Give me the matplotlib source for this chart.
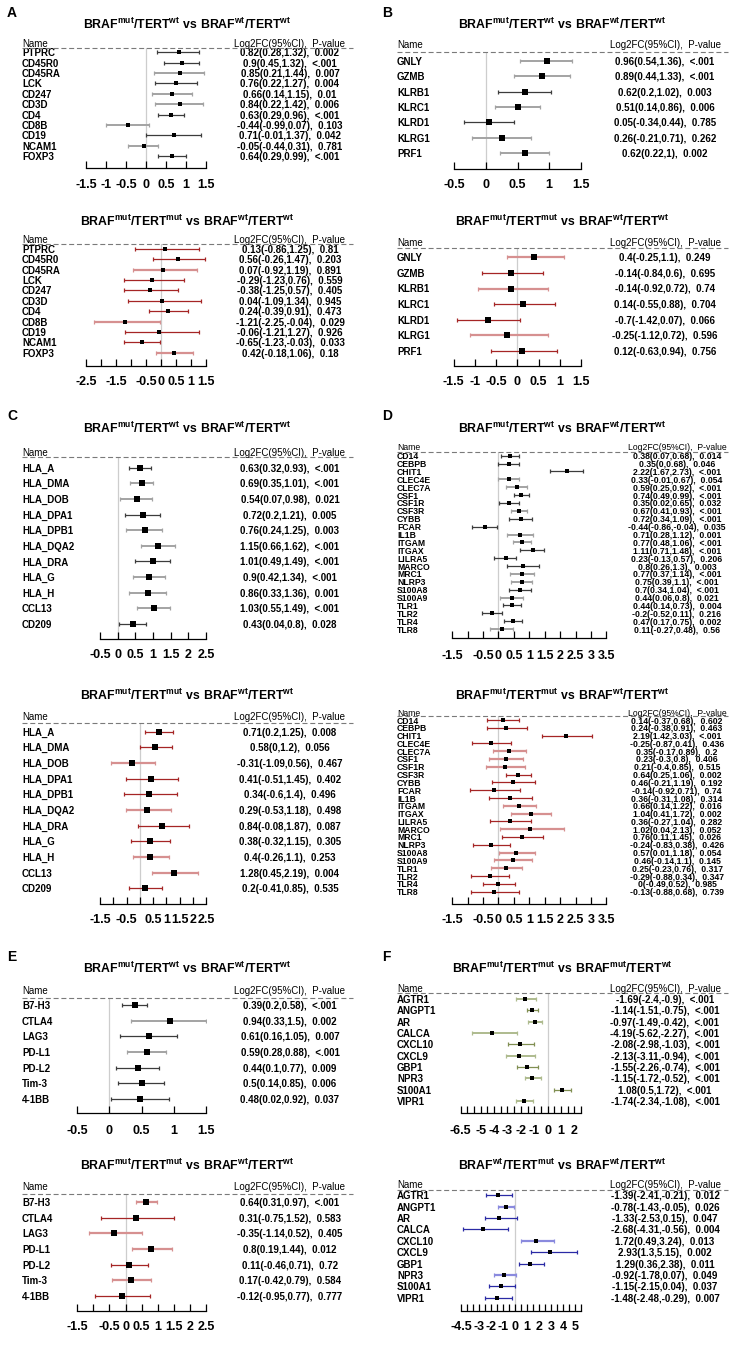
import matplotlib
matplotlib.use('Agg')
import matplotlib.pyplot as plt
import matplotlib.transforms as mtransforms
from matplotlib.lines import Line2D
import numpy as np

plt.rcParams['font.family'] = ['Liberation Sans', 'DejaVu Sans']
plt.rcParams['mathtext.fontset'] = 'custom'
plt.rcParams['mathtext.bf'] = 'Liberation Sans:bold'
plt.rcParams['mathtext.rm'] = 'Liberation Sans'
plt.rcParams['lines.scale_dashes'] = False

# ---------------- DATA ----------------
# Panel A (T cell markers)
a_names = ['PTPRC', 'CD45R0', 'CD45RA', 'LCK', 'CD247', 'CD3D', 'CD4', 'CD8B', 'CD19', 'NCAM1', 'FOXP3']
a1_est = [0.82, 0.9, 0.85, 0.76, 0.66, 0.84, 0.63, -0.44, 0.71, -0.05, 0.64]
a1_lo = [0.28, 0.45, 0.21, 0.22, 0.14, 0.22, 0.29, -0.99, -0.01, -0.44, 0.29]
a1_hi = [1.32, 1.32, 1.44, 1.27, 1.15, 1.42, 0.96, 0.07, 1.37, 0.31, 0.99]
a1_p = ['0.002', '<.001', '0.007', '0.004', '0.01', '0.006', '<.001', '0.103', '0.042', '0.781', '<.001']
a2_est = [0.13, 0.56, 0.07, -0.29, -0.38, 0.04, 0.24, -1.21, -0.06, -0.65, 0.42]
a2_lo = [-0.86, -0.26, -0.92, -1.23, -1.25, -1.09, -0.39, -2.25, -1.21, -1.23, -0.18]
a2_hi = [1.25, 1.47, 1.19, 0.76, 0.57, 1.34, 0.91, -0.04, 1.27, -0.03, 1.06]
a2_p = ['0.81', '0.203', '0.891', '0.559', '0.405', '0.945', '0.473', '0.029', '0.926', '0.033', '0.18']
a1_ticklabels = ['-1.5', '-1', '-0.5', '0', '0.5', '1', '1.5']
a2_ticklabels = ['-2.5', '', '-1.5', '', '-0.5', '0', '0.5', '1', '1.5']

# Panel B (NK markers)
b_names = ['GNLY', 'GZMB', 'KLRB1', 'KLRC1', 'KLRD1', 'KLRG1', 'PRF1']
b1_est = [0.96, 0.89, 0.62, 0.51, 0.05, 0.26, 0.62]
b1_lo = [0.54, 0.44, 0.2, 0.14, -0.34, -0.21, 0.22]
b1_hi = [1.36, 1.33, 1.02, 0.86, 0.44, 0.71, 1]
b1_p = ['<.001', '<.001', '0.003', '0.006', '0.785', '0.262', '0.002']
b2_est = [0.4, -0.14, -0.14, 0.14, -0.7, -0.25, 0.12]
b2_lo = [-0.25, -0.84, -0.92, -0.55, -1.42, -1.12, -0.63]
b2_hi = [1.1, 0.6, 0.72, 0.88, 0.07, 0.72, 0.94]
b2_p = ['0.249', '0.695', '0.74', '0.704', '0.066', '0.596', '0.756']
b1_ticklabels = ['-0.5', '0', '0.5', '1', '1.5']
b2_ticklabels = ['-1.5', '-1', '-0.5', '0', '0.5', '1', '1.5']

# Panel C (antigen presentation)
c_names = ['HLA_A', 'HLA_DMA', 'HLA_DOB', 'HLA_DPA1', 'HLA_DPB1', 'HLA_DQA2', 'HLA_DRA', 'HLA_G', 'HLA_H', 'CCL13', 'CD209']
c1_est = [0.63, 0.69, 0.54, 0.72, 0.76, 1.15, 1.01, 0.9, 0.86, 1.03, 0.43]
c1_lo = [0.32, 0.35, 0.07, 0.2, 0.24, 0.66, 0.49, 0.42, 0.33, 0.55, 0.04]
c1_hi = [0.93, 1.01, 0.98, 1.21, 1.25, 1.62, 1.49, 1.34, 1.36, 1.49, 0.8]
c1_p = ['<.001', '<.001', '0.021', '0.005', '0.003', '<.001', '<.001', '<.001', '0.001', '<.001', '0.028']
c2_est = [0.71, 0.58, -0.31, 0.41, 0.34, 0.29, 0.84, 0.38, 0.4, 1.28, 0.2]
c2_lo = [0.2, 0, -1.09, -0.51, -0.6, -0.53, -0.08, -0.32, -0.26, 0.45, -0.41]
c2_hi = [1.25, 1.2, 0.56, 1.45, 1.4, 1.18, 1.87, 1.15, 1.1, 2.19, 0.85]
c2_p = ['0.008', '0.056', '0.467', '0.402', '0.496', '0.498', '0.087', '0.305', '0.253', '0.004', '0.535']
c1_ticklabels = ['-0.5', '0', '0.5', '1', '1.5', '2', '2.5']
c2_ticklabels = ['-1.5', '', '-0.5', '', '0.5', '1', '1.5', '2', '2.5']

# Panel D (myeloid markers)
d_names = ['CD14', 'CEBPB', 'CHIT1', 'CLEC4E', 'CLEC7A', 'CSF1', 'CSF1R', 'CSF3R', 'CYBB', 'FCAR', 'IL1B', 'ITGAM',
           'ITGAX', 'LILRA5', 'MARCO', 'MRC1', 'NLRP3', 'S100A8', 'S100A9', 'TLR1', 'TLR2', 'TLR4', 'TLR8']
d1_est = [0.38, 0.35, 2.22, 0.33, 0.59, 0.74, 0.35, 0.67, 0.72, -0.44, 0.71, 0.77, 1.11, 0.23, 0.8, 0.77, 0.75, 0.7, 0.44, 0.44, -0.2, 0.47, 0.11]
d1_lo = [0.07, 0, 1.67, -0.01, 0.25, 0.49, 0.02, 0.41, 0.34, -0.86, 0.28, 0.48, 0.71, -0.13, 0.26, 0.37, 0.39, 0.34, 0.06, 0.14, -0.52, 0.17, -0.27]
d1_hi = [0.68, 0.68, 2.73, 0.67, 0.92, 0.99, 0.65, 0.93, 1.09, -0.04, 1.12, 1.06, 1.48, 0.57, 1.3, 1.14, 1.1, 1.04, 0.8, 0.73, 0.11, 0.75, 0.48]
d1_p = ['0.014', '0.046', '<.001', '0.054', '<.001', '<.001', '0.032', '<.001', '<.001', '0.035', '0.001', '<.001',
        '<.001', '0.206', '0.003', '<.001', '<.001', '<.001', '0.021', '0.004', '0.216', '0.002', '0.56']
d2_est = [0.14, 0.24, 2.19, -0.25, 0.35, 0.23, 0.21, 0.64, 0.46, -0.14, 0.36, 0.66, 1.04, 0.36, 1.02, 0.76, -0.24, 0.57, 0.46, 0.25, -0.29, 0, -0.13]
d2_lo = [-0.37, -0.38, 1.42, -0.87, -0.17, -0.3, -0.4, 0.25, -0.21, -0.92, -0.31, 0.14, 0.41, -0.27, 0.04, 0.11, -0.83, 0.01, -0.14, -0.23, -0.88, -0.49, -0.88]
d2_hi = [0.68, 0.91, 3.03, 0.41, 0.89, 0.8, 0.85, 1.06, 1.19, 0.71, 1.08, 1.22, 1.72, 1.04, 2.13, 1.45, 0.38, 1.18, 1.1, 0.76, 0.34, 0.52, 0.68]
d2_p = ['0.602', '0.463', '<.001', '0.436', '0.2', '0.406', '0.515', '0.002', '0.192', '0.74', '0.314', '0.016',
        '0.002', '0.282', '0.052', '0.026', '0.426', '0.054', '0.145', '0.317', '0.347', '0.985', '0.739']
d_ticklabels = ['-1.5', '', '-0.5', '0', '0.5', '1', '1.5', '2', '2.5', '3', '3.5']

# Panel E (immune checkpoints)
e_names = ['B7-H3', 'CTLA4', 'LAG3', 'PD-L1', 'PD-L2', 'Tim-3', '4-1BB']
e1_est = [0.39, 0.94, 0.61, 0.59, 0.44, 0.5, 0.48]
e1_lo = [0.2, 0.33, 0.16, 0.28, 0.1, 0.14, 0.02]
e1_hi = [0.58, 1.5, 1.05, 0.88, 0.77, 0.85, 0.92]
e1_p = ['<.001', '0.002', '0.007', '<.001', '0.009', '0.006', '0.037']
e2_est = [0.64, 0.31, -0.35, 0.8, 0.11, 0.17, -0.12]
e2_lo = [0.31, -0.75, -1.14, 0.19, -0.46, -0.42, -0.95]
e2_hi = [0.97, 1.52, 0.52, 1.44, 0.71, 0.79, 0.77]
e2_p = ['<.001', '0.583', '0.405', '0.012', '0.72', '0.584', '0.777']
e1_ticklabels = ['-0.5', '0', '0.5', '1', '1.5']
e2_ticklabels = ['-1.5', '', '-0.5', '0', '0.5', '1', '1.5', '2', '2.5']

# Panel F
f_names = ['AGTR1', 'ANGPT1', 'AR', 'CALCA', 'CXCL10', 'CXCL9', 'GBP1', 'NPR3', 'S100A1', 'VIPR1']
f1_est = [-1.69, -1.14, -0.97, -4.19, -2.08, -2.13, -1.55, -1.15, 1.08, -1.74]
f1_lo = [-2.4, -1.51, -1.49, -5.62, -2.98, -3.11, -2.26, -1.72, 0.5, -2.34]
f1_hi = [-0.9, -0.75, -0.42, -2.27, -1.03, -0.94, -0.74, -0.52, 1.72, -1.08]
f1_p = ['<.001'] * 10
f2_est = [-1.39, -0.78, -1.33, -2.68, 1.72, 2.93, 1.29, -0.92, -1.15, -1.48]
f2_lo = [-2.41, -1.43, -2.53, -4.31, 0.49, 1.3, 0.36, -1.78, -2.15, -2.48]
f2_hi = [-0.21, -0.05, 0.15, -0.56, 3.24, 5.15, 2.38, 0.07, 0.04, -0.29]
f2_p = ['0.012', '0.026', '0.047', '0.004', '0.013', '0.002', '0.011', '0.049', '0.037', '0.007']
f1_ticklabels = ['-6.5', '', '', '-5', '', '-4', '', '-3', '', '-2', '', '-1', '', '0', '', '1', '', '2', '']
f2_ticklabels = ['-4.5', '', '', '-3', '', '-2', '', '-1', '', '0', '', '1', '', '2', '', '3', '', '4', '', '5', '']

# ---------------- STYLE / LAYOUT ----------------
W, H = 750, 1350
fig = plt.figure(figsize=(7.5, 13.5), dpi=100)

PAL = {
    'gray': [('#3c3c3c', 0.9), ('#a3a3a3', 1.4)],
    'red': [('#a52525', 0.9), ('#d69090', 1.6)],
    'green': [('#808f52', 0.9), ('#aebb8e', 1.4)],
    'blue': [('#2a2aa5', 0.9), ('#8a8ade', 1.6)],
}


def fnum(v):
    return f"{v:g}"


def title_tex(a, b, c, d):
    return (r'$\mathbf{BRAF}^{\mathbf{%s}}\mathbf{/TERT}^{\mathbf{%s}}\mathbf{\ vs\ BRAF}^{\mathbf{%s}}'
            r'\mathbf{/TERT}^{\mathbf{%s}}$' % (a, b, c, d))


def forest(x0, lay, names, est, lo, hi, pv, xlim, ticklabels, pal, shade, title,
           fs_name=7.0, fs_val=7.0, fs_hdr=7.0, ms=3.0, val_cx=290):
    first, sp = lay['first'], lay['sp']
    dash, axis_y = lay['dash'], lay['axis']
    n = len(names)
    left = (x0 + lay['axL']) / W
    right = (x0 + lay['axR']) / W
    bottom = 1 - axis_y / H
    top = 1 - dash / H
    ax = fig.add_axes([left, bottom, right - left, top - bottom])
    ax.patch.set_alpha(0)
    ax.set_xlim(*xlim)
    ax.set_ylim((axis_y - first) / sp, (dash - first) / sp)
    for s in ['top', 'left', 'right']:
        ax.spines[s].set_visible(False)
    ax.spines['bottom'].set_linewidth(0.9)
    ax.set_yticks([])
    ticks = np.arange(xlim[0], xlim[1] + 0.01, 0.5)
    ax.set_xticks(ticks)
    ax.set_xticklabels(ticklabels, fontsize=9, fontweight='bold')
    pad_px = (lay['tl'] - axis_y) - 4.8
    ax.tick_params(axis='x', direction='in', length=4.8, width=0.9, pad=pad_px * 0.72)
    ax.axvline(0, color='#cdcdcd', lw=0.9, zorder=0)
    ys = np.arange(n)
    for i in range(n):
        c, lw = PAL[pal][shade[i]]
        ax.errorbar([est[i]], [i], xerr=[[est[i] - lo[i]], [hi[i] - est[i]]], fmt='none',
                    ecolor=c, elinewidth=lw, capsize=1.5, capthick=0.9, zorder=2)
    ax.plot(est, ys, 's', color='black', ms=ms, mew=0, zorder=3)
    trans = mtransforms.blended_transform_factory(fig.transFigure, ax.transData)
    for i in range(n):
        ax.text((x0 + 22) / W, i, names[i], transform=trans, ha='left', va='center_baseline',
                fontsize=fs_name, fontweight='bold', clip_on=False)
        s = f"{fnum(est[i])}({fnum(lo[i])},{fnum(hi[i])}),  {pv[i]}"
        ax.text((x0 + val_cx) / W, i, s, transform=trans, ha='center', va='center_baseline',
                fontsize=fs_val, fontweight='bold', clip_on=False)
    fig.text((x0 + 22) / W, 1 - lay['hdr'] / H, 'Name', ha='left', va='center_baseline', fontsize=fs_hdr)
    fig.text((x0 + val_cx) / W, 1 - lay['hdr'] / H, 'Log2FC(95%CI),  P-value', ha='center',
             va='center_baseline', fontsize=fs_hdr)
    fig.add_artist(Line2D([(x0 + 22) / W, (x0 + 353) / W], [top, top], transform=fig.transFigure,
                          color='#7a7a7a', lw=0.8, ls=(0, (3.6, 2.0))))
    fig.text((x0 + 187.5) / W, 1 - lay['title'] / H, title, ha='center', va='center', fontsize=8.8)
    return ax


LAY = {
    'A1': dict(title=24, hdr=43, dash=47.5, first=52.3, sp=10.37, axis=168, tl=184, axL=86, axR=206),
    'A2': dict(title=221, hdr=239, dash=244, first=249, sp=10.37, axis=366, tl=381, axL=86, axR=206),
    'B1': dict(title=24, hdr=44.3, dash=51.7, first=60.7, sp=15.43, axis=169, tl=184, axL=79, axR=206),
    'B2': dict(title=221, hdr=241.7, dash=248.3, first=257.3, sp=15.6, axis=366, tl=381, axL=78.7, axR=206),
    'C1': dict(title=428, hdr=451.7, dash=456.7, first=467.7, sp=15.63, axis=639.3, tl=653.3, axL=100, axR=206),
    'C2': dict(title=695, hdr=716, dash=722.7, first=731.7, sp=15.67, axis=904, tl=919, axL=100, axR=206),
    'D1': dict(title=428, hdr=446.7, dash=451.7, first=455.7, sp=7.88, axis=638, tl=655, axL=77.3, axR=231.3),
    'D2': dict(title=695, hdr=712.3, dash=715.5, first=720, sp=7.8, axis=904, tl=919, axL=77.3, axR=231.3),
    'E1': dict(title=968.3, hdr=990, dash=997.7, first=1005, sp=15.67, axis=1113, tl=1130, axL=77.3, axR=206),
    'E2': dict(title=1165, hdr=1186, dash=1194, first=1202.3, sp=15.57, axis=1311, tl=1326, axL=77.3, axR=206),
    'F1': dict(title=968.3, hdr=987.7, dash=992.7, first=999, sp=11.33, axis=1113, tl=1130, axL=85.7, axR=206),
    'F2': dict(title=1165, hdr=1184.3, dash=1190, first=1195.3, sp=11.38, axis=1311, tl=1326, axL=86, axR=206),
}

SH = {
    'A1': [0, 0, 1, 0, 1, 1, 0, 1, 0, 1, 0],
    'A2': [0, 0, 1, 0, 0, 0, 0, 1, 0, 0, 1],
    'B1': [1, 1, 0, 1, 0, 1, 1],
    'B2': [1, 0, 1, 0, 0, 1, 0],
    'C1': [0, 1, 1, 0, 1, 1, 0, 1, 1, 1, 0],
    'C2': [0, 0, 1, 0, 0, 1, 0, 0, 1, 1, 0],
    'D1': [0, 0, 0, 1, 1, 0, 0, 1, 0, 0, 1, 1, 0, 0, 0, 1, 1, 0, 1, 0, 0, 0, 1],
    'D2': [0, 0, 0, 0, 1, 1, 1, 0, 0, 0, 0, 1, 1, 0, 1, 0, 0, 1, 1, 1, 0, 0, 0],
    'E1': [0, 1, 0, 1, 0, 0, 0],
    'E2': [1, 0, 1, 1, 0, 1, 0],
    'F1': [1, 0, 1, 1, 0, 1, 0, 1, 0, 1],
    'F2': [0, 1, 0, 0, 1, 0, 0, 1, 0, 0],
}

T_MW = title_tex('mut', 'wt', 'wt', 'wt')
T_MM = title_tex('mut', 'mut', 'wt', 'wt')
T_F1 = title_tex('mut', 'mut', 'mut', 'wt')
T_F2 = title_tex('wt', 'mut', 'wt', 'wt')

L, R = 0, 375
forest(L, LAY['A1'], a_names, a1_est, a1_lo, a1_hi, a1_p, (-1.5, 1.5), a1_ticklabels, 'gray', SH['A1'], T_MW, ms=3.0)
forest(L, LAY['A2'], a_names, a2_est, a2_lo, a2_hi, a2_p, (-2.5, 1.5), a2_ticklabels, 'red', SH['A2'], T_MM, ms=3.0)
forest(R, LAY['B1'], b_names, b1_est, b1_lo, b1_hi, b1_p, (-0.5, 1.5), b1_ticklabels, 'gray', SH['B1'], T_MW, ms=4.2)
forest(R, LAY['B2'], b_names, b2_est, b2_lo, b2_hi, b2_p, (-1.5, 1.5), b2_ticklabels, 'red', SH['B2'], T_MM, ms=4.2)
forest(L, LAY['C1'], c_names, c1_est, c1_lo, c1_hi, c1_p, (-0.5, 2.5), c1_ticklabels, 'gray', SH['C1'], T_MW, ms=4.0)
forest(L, LAY['C2'], c_names, c2_est, c2_lo, c2_hi, c2_p, (-1.5, 2.5), c2_ticklabels, 'red', SH['C2'], T_MM, ms=4.0)
forest(R, LAY['D1'], d_names, d1_est, d1_lo, d1_hi, d1_p, (-1.5, 3.5), d_ticklabels, 'gray', SH['D1'], T_MW,
       fs_name=6.2, fs_val=6.2, fs_hdr=6.2, ms=2.4, val_cx=302)
forest(R, LAY['D2'], d_names, d2_est, d2_lo, d2_hi, d2_p, (-1.5, 3.5), d_ticklabels, 'red', SH['D2'], T_MM,
       fs_name=6.2, fs_val=6.2, fs_hdr=6.2, ms=2.4, val_cx=302)
forest(L, LAY['E1'], e_names, e1_est, e1_lo, e1_hi, e1_p, (-0.5, 1.5), e1_ticklabels, 'gray', SH['E1'], T_MW, ms=3.8)
forest(L, LAY['E2'], e_names, e2_est, e2_lo, e2_hi, e2_p, (-1.5, 2.5), e2_ticklabels, 'red', SH['E2'], T_MM, ms=3.8)
forest(R, LAY['F1'], f_names, f1_est, f1_lo, f1_hi, f1_p, (-6.5, 2.5), f1_ticklabels, 'green', SH['F1'], T_F1, ms=3.0)
forest(R, LAY['F2'], f_names, f2_est, f2_lo, f2_hi, f2_p, (-4.5, 5.5), f2_ticklabels, 'blue', SH['F2'], T_F2, ms=3.0)

# panel letters
for letter, x, y in [('A', 7, 13), ('B', 382, 13), ('C', 7, 415.7), ('D', 382, 415.7), ('E', 7, 956.7), ('F', 382, 956.7)]:
    fig.text(x / W, 1 - y / H, letter, ha='left', va='center', fontsize=10, fontweight='bold')

fig.savefig('out.png', dpi=100)
